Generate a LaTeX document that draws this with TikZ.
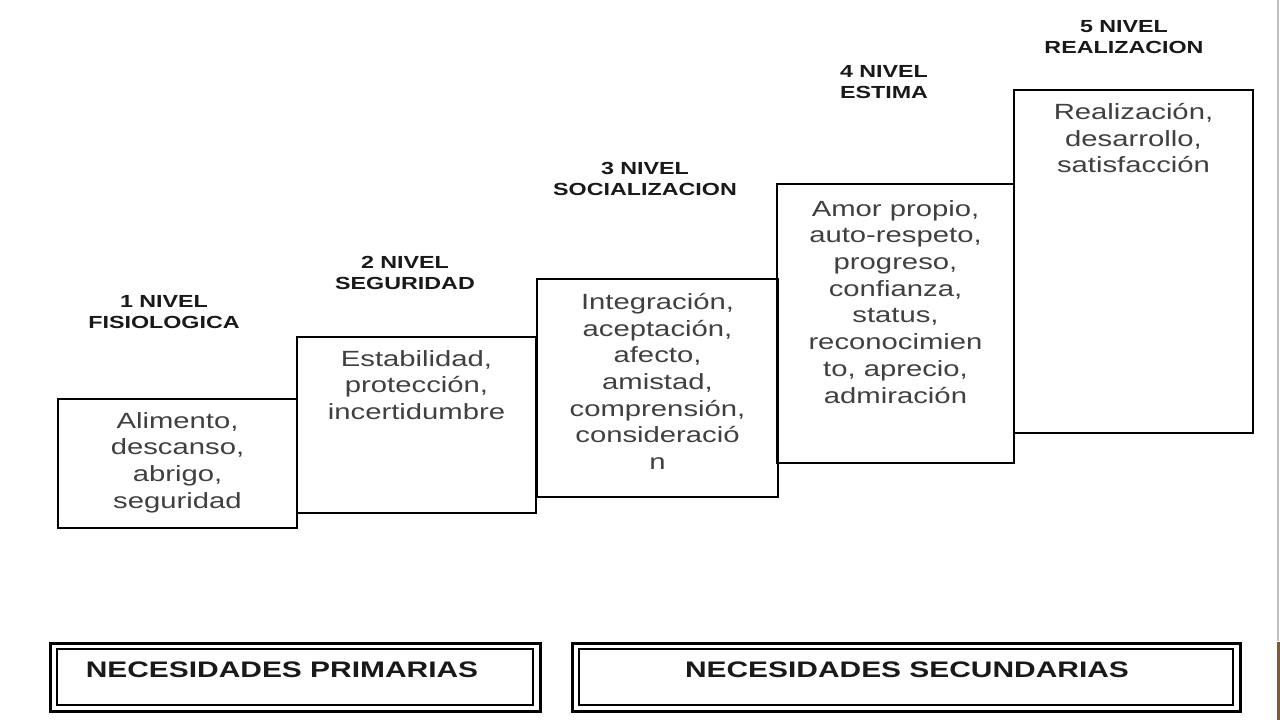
\documentclass[tikz,border=0pt]{standalone}
\usepackage{fontspec}
\setmainfont{Liberation Sans}
\newfontfamily\stepfont[FakeStretch=1.33]{Liberation Sans}
\begin{document}
\begin{tikzpicture}[x=1pt,y=-1pt,
  stepbox/.style={draw=black, line width=2.8pt, minimum width=#1, anchor=north west, inner sep=0pt, outer sep=0pt},
  steptext/.style={anchor=north, inner sep=0pt, align=center, text=black!75, font=\stepfont\fontsize{22pt}{26.7pt}\selectfont},
  lvl/.style={anchor=center, inner sep=0pt, align=center, text=black!90, font=\stepfont\bfseries\fontsize{17.5pt}{21pt}\selectfont},
  outerbox/.style={draw=black, line width=3pt, anchor=north west, inner sep=0pt, outer sep=0pt},
  innerbox/.style={draw=black, line width=1.6pt, anchor=north west, inner sep=0pt, outer sep=0pt},
  bottomtext/.style={anchor=center, inner sep=0pt, text=black!90, font=\stepfont\bfseries\fontsize{22.5pt}{24pt}\selectfont}
]
\useasboundingbox (0,0) rectangle (1280,720);
\fill[white] (0,0) rectangle (1280,720);

% step boxes
\node[stepbox=239pt, minimum height=129pt] (b1) at (58,399) {};
\node[stepbox=239pt, minimum height=176pt] (b2) at (297,337) {};
\node[stepbox=241pt, minimum height=218pt] (b3) at (537,279) {};
\node[stepbox=237pt, minimum height=279pt] (b4) at (777,184) {};
\node[stepbox=239pt, minimum height=343pt] (b5) at (1014,90) {};

% box texts
\node[steptext] (t1) at ([yshift=-13pt]b1.north) {Alimento,\\descanso,\\abrigo,\\seguridad};
\node[steptext] (t2) at ([yshift=-13pt]b2.north) {Estabilidad,\\protección,\\incertidumbre};
\node[steptext] (t3) at ([yshift=-14pt]b3.north) {Integración,\\aceptación,\\afecto,\\amistad,\\comprensión,\\consideració\\n};
\node[steptext] (t4) at ([yshift=-16pt]b4.north) {Amor propio,\\auto-respeto,\\progreso,\\confianza,\\status,\\reconocimien\\to, aprecio,\\admiración};
\node[steptext] (t5) at ([yshift=-13pt]b5.north) {Realización,\\desarrollo,\\satisfacción};

% level labels
\node[lvl] (l1) at (164,312) {1 NIVEL\\FISIOLOGICA};
\node[lvl] (l2) at (405,273) {2 NIVEL\\SEGURIDAD};
\node[lvl] (l3) at (645,179) {3 NIVEL\\SOCIALIZACION};
\node[lvl] (l4) at (884,82.5) {4 NIVEL\\ESTIMA};
\node[lvl] (l5) at (1124,37) {5 NIVEL\\REALIZACION};

% bottom boxes
\node[outerbox, minimum width=490pt, minimum height=68pt] (po) at (50,643) {};
\node[innerbox, minimum width=476pt, minimum height=56pt] (pi) at (57,649) {};
\node[bottomtext] (pt) at (282,670) {NECESIDADES PRIMARIAS};
\node[outerbox, minimum width=668pt, minimum height=68pt] (so) at (572,643) {};
\node[innerbox, minimum width=654pt, minimum height=56pt] (si) at (579,649) {};
\node[bottomtext] (st) at (907,670) {NECESIDADES SECUNDARIAS};

% right edge artefacts
\draw[black!25, line width=1.5pt] (1278,0) -- (1278,641);
\fill[brown!70!black] (1277,642) rectangle (1280,720);
\end{tikzpicture}
\end{document}
